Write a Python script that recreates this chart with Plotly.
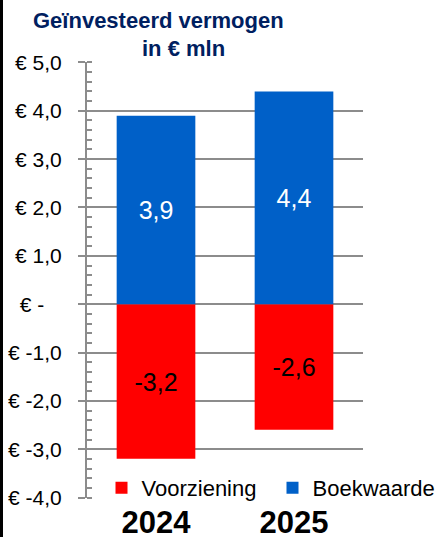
import plotly.graph_objects as go

years = ["2024", "2025"]
voorziening = [-3.2, -2.6]
boekwaarde = [3.9, 4.4]
voorziening_labels = ["-3,2", "-2,6"]
boekwaarde_labels = ["3,9", "4,4"]
y_tickvals = [5, 4, 3, 2, 1, 0, -1, -2, -3, -4]
y_ticktext = ["€ 5,0", "€ 4,0", "€ 3,0", "€ 2,0", "€ 1,0", "€ -\u00a0\u00a0\u00a0",
              "€ -1,0", "€ -2,0", "€ -3,0", "€ -4,0"]

W, H = 439, 537
ML, MR, MT, MB = 87, 76, 62, 39
PW = W - ML - MR
PH = H - MT - MB

FONT = "Liberation Sans, Arial, sans-serif"
RED = "#FF0000"
BLUE = "#0060C8"
GRID = "#8C8C8C"

fig = go.Figure()
fig.add_trace(go.Bar(
    x=years, y=voorziening, name="Voorziening", marker_color=RED,
    marker_line_width=0, legend="legend",
    text=voorziening_labels, textposition="inside", insidetextanchor="middle",
    textfont=dict(color="black", size=25, family=FONT), textangle=0,
))
fig.add_trace(go.Bar(
    x=years, y=boekwaarde, name="Boekwaarde", marker_color=BLUE,
    marker_line_width=0, legend="legend2",
    text=boekwaarde_labels, textposition="inside", insidetextanchor="middle",
    textfont=dict(color="white", size=25, family=FONT), textangle=0,
))

legend_common = dict(
    orientation="h", xref="container", yref="container",
    xanchor="left", y=1 - 488 / H, yanchor="middle",
    font=dict(size=22, family=FONT, color="black"),
    bgcolor="rgba(0,0,0,0)",
)

fig.update_layout(
    width=W, height=H,
    margin=dict(l=ML, r=MR, t=MT, b=MB, autoexpand=False),
    barmode="relative",
    bargap=0.43,
    plot_bgcolor="white", paper_bgcolor="white",
    font=dict(family=FONT, color="black"),
    showlegend=True,
    legend=dict(x=101.5 / W, **legend_common),
    legend2=dict(x=272.5 / W, **legend_common),
    xaxis=dict(
        showgrid=False, showline=False, ticks="",
        tickfont=dict(size=31, family=FONT, color="black", weight="bold"),
        ticklabelstandoff=3,
    ),
    yaxis=dict(
        range=[-4.01, 5.01], tickvals=y_tickvals, ticktext=y_ticktext,
        showgrid=True, gridcolor=GRID, gridwidth=2,
        showline=True, linecolor=GRID, linewidth=2,
        ticks="outside", ticklen=7, tickcolor=GRID, tickwidth=2,
        tickfont=dict(size=21, family=FONT, color="black"),
        ticklabelstandoff=12,
        zeroline=False,
        minor=dict(ticks="inside", ticklen=5, dtick=0.2, tickcolor=GRID,
                   tickwidth=1.5, showgrid=False),
    ),
    annotations=[
        dict(text="<b>Geïnvesteerd vermogen</b>", xref="paper", yref="paper",
             x=(158 - ML) / PW, y=1 + (MT - 21) / PH, xanchor="center", yanchor="middle",
             showarrow=False, font=dict(size=22, family=FONT, color="#002060")),
        dict(text="<b>in € mln</b>", xref="paper", yref="paper",
             x=(183 - ML) / PW, y=1 + (MT - 48) / PH, xanchor="center", yanchor="middle",
             showarrow=False, font=dict(size=22, family=FONT, color="#002060")),
    ],
    shapes=[
        dict(type="rect", xref="paper", yref="paper",
             x0=-ML / PW, x1=(-ML + 3) / PW, y0=-MB / PH, y1=1 + MT / PH,
             fillcolor="black", line_width=0, layer="above"),
    ],
)

fig.write_html(
    "out.html",
    config={"displayModeBar": False},
    post_script="document.body.style.margin='0';document.body.style.overflow='hidden';",
)
